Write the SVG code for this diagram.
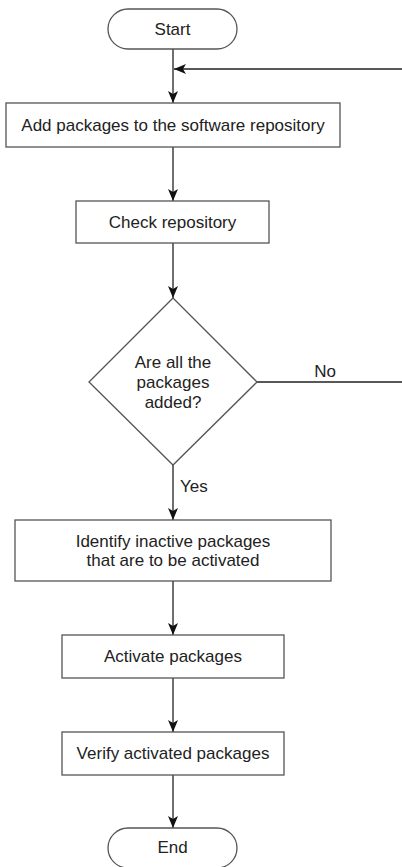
<svg xmlns="http://www.w3.org/2000/svg" width="402" height="867" viewBox="0 0 402 867">
<defs>
<style>
.box{fill:#fff;stroke:#555;stroke-width:1.3}
.t{font-family:"Liberation Sans",Arial,sans-serif;font-size:17px;fill:#222;text-anchor:middle}
.c{fill:none;stroke:#222;stroke-width:1.3}
</style>
<marker id="ah" viewBox="0 0 12 10" refX="12" refY="5" markerWidth="12" markerHeight="10" markerUnits="userSpaceOnUse" orient="auto">
<path d="M0,0 L12,5 L0,10 L3,5 Z" fill="#111"/>
</marker>
</defs>
<rect width="402" height="867" fill="#fff"/>
<g id="connectors">
<path class="c" d="M173,49 V103" marker-end="url(#ah)"/>
<path class="c" d="M257,382 H406 V69 H174" marker-end="url(#ah)"/>
<path class="c" d="M173,147 V201" marker-end="url(#ah)"/>
<path class="c" d="M173,243 V298" marker-end="url(#ah)"/>
<path class="c" d="M173,465 V520" marker-end="url(#ah)"/>
<path class="c" d="M173,581 V635" marker-end="url(#ah)"/>
<path class="c" d="M173,678 V732" marker-end="url(#ah)"/>
<path class="c" d="M173,775 V828" marker-end="url(#ah)"/>
<text class="t" x="325" y="377">No</text>
<text class="t" x="180" y="492" style="text-anchor:start">Yes</text>
</g>
<g id="start">
<rect class="box" x="108" y="9" width="129" height="40" rx="20"/>
<text class="t" x="172.5" y="35">Start</text>
</g>
<g id="add">
<rect class="box" x="6" y="103" width="334" height="44"/>
<text class="t" x="173" y="131">Add packages to the software repository</text>
</g>
<g id="check">
<rect class="box" x="76" y="201" width="193" height="42"/>
<text class="t" x="172.5" y="228">Check repository</text>
</g>
<g id="decision">
<polygon class="box" points="173,298 257,382 173,465 89,382"/>
<text class="t" x="173" y="368">Are all the</text>
<text class="t" x="173" y="388">packages</text>
<text class="t" x="173" y="408">added?</text>
</g>
<g id="identify">
<rect class="box" x="15" y="520" width="316" height="61"/>
<text class="t" x="173" y="547">Identify inactive packages</text>
<text class="t" x="173" y="566">that are to be activated</text>
</g>
<g id="activate">
<rect class="box" x="62" y="635" width="222" height="43"/>
<text class="t" x="173" y="662">Activate packages</text>
</g>
<g id="verify">
<rect class="box" x="62" y="732" width="222" height="43"/>
<text class="t" x="173" y="759">Verify activated packages</text>
</g>
<g id="end">
<rect class="box" x="108" y="828" width="129" height="40" rx="20"/>
<text class="t" x="172.5" y="853">End</text>
</g>
</svg>
